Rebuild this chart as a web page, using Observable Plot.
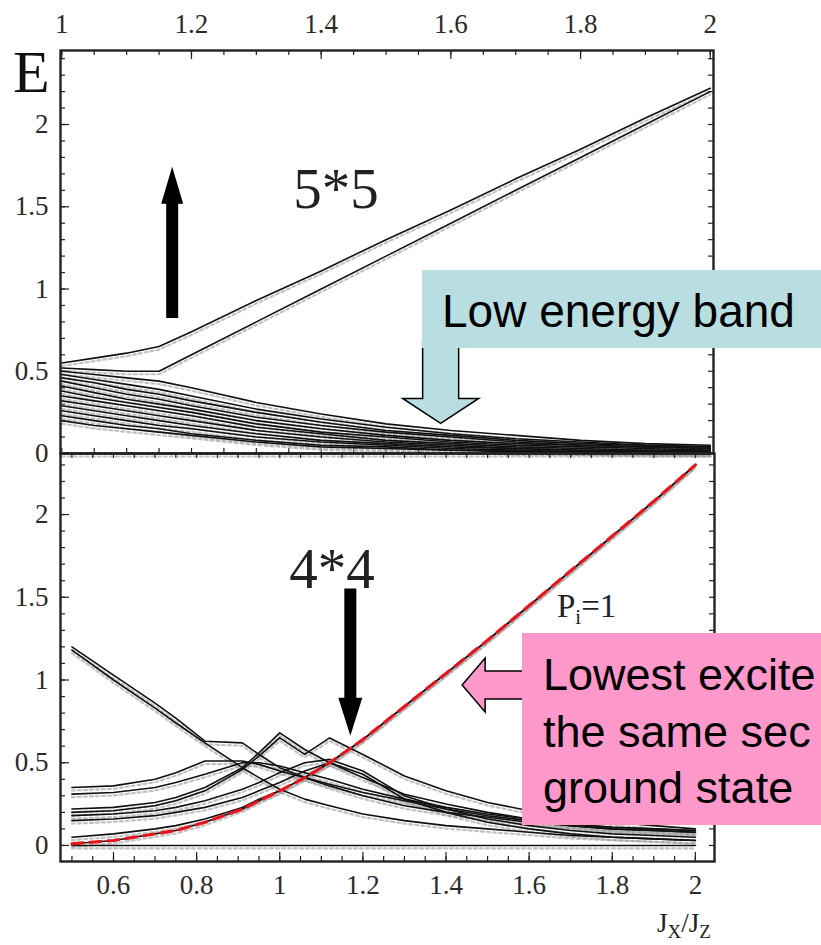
<!DOCTYPE html>
<html><head><meta charset="utf-8">
<script src="https://cdn.jsdelivr.net/npm/d3@7"></script>
<script src="https://cdn.jsdelivr.net/npm/@observablehq/plot@0.6"></script>
<style>
html,body{margin:0;padding:0;background:#fff;overflow:hidden;}
#page{position:relative;width:821px;height:945px;overflow:hidden;background:#fff;}
#page svg.panel{display:block;}
#page svg.panel text{font-family:"Liberation Serif","Times New Roman",serif !important;}
#overlay{position:absolute;left:0;top:0;pointer-events:none;}
</style></head><body><div id="page"></div>
<script>
// ---------- DATA ----------
// Top panel (5*5 lattice), x = Jx/Jz
const topX = [1, 1.05, 1.1, 1.15, 1.2, 1.3, 1.4, 1.5, 1.6, 1.7, 1.8, 1.9, 2.0];
const top_upperA = [0.55,0.58,0.61,0.65,0.74,0.93,1.11,1.30,1.48,1.67,1.85,2.04,2.22];
const top_upperB = [0.52,0.51,0.50,0.50,0.60,0.80,1.00,1.20,1.40,1.60,1.80,2.00,2.20];
const top_low1  = [0.50,0.48,0.46,0.44,0.40,0.31,0.24,0.18,0.14,0.11,0.08,0.06,0.05];
const top_low2  = [0.48,0.45,0.42,0.39,0.35,0.27,0.21,0.16,0.12,0.09,0.07,0.05,0.04];
const top_low3  = [0.46,0.43,0.39,0.36,0.32,0.25,0.19,0.14,0.11,0.08,0.06,0.05,0.04];
const top_low4  = [0.44,0.40,0.36,0.33,0.29,0.22,0.17,0.13,0.10,0.07,0.05,0.04,0.03];
const top_low5  = [0.41,0.37,0.33,0.30,0.27,0.20,0.15,0.11,0.08,0.06,0.05,0.04,0.03];
const top_low6  = [0.38,0.34,0.31,0.28,0.25,0.18,0.13,0.10,0.07,0.05,0.04,0.03,0.02];
const top_low7  = [0.35,0.32,0.29,0.26,0.23,0.16,0.12,0.08,0.06,0.04,0.03,0.02,0.02];
const top_low8  = [0.32,0.29,0.26,0.23,0.20,0.14,0.10,0.07,0.05,0.03,0.02,0.02,0.01];
const top_low9  = [0.29,0.26,0.23,0.20,0.17,0.12,0.08,0.06,0.04,0.03,0.02,0.01,0.01];
const top_low10 = [0.26,0.23,0.20,0.17,0.15,0.10,0.07,0.05,0.03,0.02,0.01,0.01,0.01];
const top_low11 = [0.23,0.20,0.17,0.15,0.12,0.08,0.05,0.04,0.02,0.02,0.01,0.01,0.00];
const top_low12 = [0.20,0.17,0.15,0.13,0.11,0.07,0.04,0.03,0.02,0.01,0.01,0.00,0.00];
const top_ground = [0,0,0,0,0,0,0,0,0,0,0,0,0];

// Bottom panel (4*4 lattice)
const botX = [0.5, 0.6, 0.7, 0.75, 0.82, 0.91, 0.95, 1.0, 1.06, 1.12, 1.2, 1.3, 1.4, 1.5, 1.6, 1.7, 1.8, 1.9, 2.0];
const bot_pi1   = [0.01,0.03,0.07,0.09,0.14,0.22,0.27,0.33,0.41,0.50,0.64,0.84,1.04,1.24,1.45,1.66,1.87,2.08,2.30];
const bot_lowB  = [0.05,0.07,0.10,0.12,0.16,0.23,0.28,0.33,0.41,0.50,0.64,0.84,1.04,1.24,1.45,1.66,1.87,2.08,2.30];
const bot_D1    = [1.20,1.03,0.86,0.77,0.63,0.62,0.55,0.47,0.41,0.36,0.30,0.24,0.20,0.17,0.14,0.12,0.10,0.09,0.08];
const bot_D2    = [1.18,1.00,0.83,0.74,0.62,0.47,0.41,0.34,0.28,0.24,0.19,0.15,0.12,0.10,0.08,0.06,0.05,0.04,0.03];
const bot_A1    = [0.35,0.36,0.40,0.44,0.51,0.51,0.49,0.45,0.41,0.37,0.32,0.27,0.22,0.18,0.15,0.12,0.10,0.09,0.08];
const bot_A2    = [0.31,0.32,0.35,0.38,0.43,0.50,0.50,0.48,0.44,0.40,0.34,0.28,0.23,0.19,0.16,0.13,0.11,0.10,0.09];
const bot_B1    = [0.22,0.23,0.26,0.29,0.35,0.47,0.56,0.68,0.58,0.50,0.41,0.31,0.25,0.20,0.16,0.13,0.11,0.10,0.09];
const bot_B2    = [0.20,0.21,0.24,0.27,0.33,0.46,0.54,0.65,0.55,0.65,0.55,0.42,0.33,0.26,0.21,0.17,0.14,0.12,0.10];
const bot_B3    = [0.18,0.19,0.21,0.23,0.27,0.34,0.38,0.44,0.50,0.52,0.45,0.30,0.22,0.16,0.12,0.09,0.07,0.06,0.05];
const bot_B4    = [0.15,0.16,0.18,0.20,0.23,0.29,0.33,0.38,0.45,0.50,0.43,0.28,0.20,0.14,0.10,0.07,0.05,0.04,0.03];
const bot_ground = [0,0,0,0,0,0,0,0,0,0,0,0,0,0,0,0,0,0,0];

// Tick labels
const topXTicks = [1, 1.2, 1.4, 1.6, 1.8, 2];
const botXTicks = [0.6, 0.8, 1, 1.2, 1.4, 1.6, 1.8, 2];
const yTicks = [0, 0.5, 1, 1.5, 2];

// ---------- BUILD ----------
function tidy(xs, series) {
  const out = [];
  for (const [name, ys] of Object.entries(series)) ys.forEach((y, i) => out.push({s: name, x: xs[i], y}));
  return out;
}
const topData = tidy(topX, {top_upperA, top_upperB, top_low1, top_low2, top_low3, top_low4, top_low5, top_low6,
  top_low7, top_low8, top_low9, top_low10, top_low11, top_low12, top_ground});
const botBlack = tidy(botX, {bot_lowB, bot_D1, bot_D2, bot_A1, bot_A2, bot_B1, bot_B2, bot_B3, bot_B4, bot_ground, bot_pi1});
const botRed = tidy(botX, {bot_pi1});

const FONT = "Liberation Serif, Times New Roman, serif";
const INK = "#222";
const fmt = d => String(d);
const axisText = {fontFamily: FONT, fontSize: 27, fill: "#2a2a2a", stroke: "#555", strokeWidth: 0.4, tickFormat: fmt, label: null, tickSize: 0};

function edgeTicks(vals, axis, side, len, fsize) {
  if (axis === "x") {
    return Plot.tickX(vals, {x: d => d, stroke: INK, strokeWidth: 1.2,
      insetTop: side === "bottom" ? fsize - len : 0, insetBottom: side === "top" ? fsize - len : 0});
  }
  return Plot.tickY(vals, {y: d => d, stroke: INK, strokeWidth: 1.2,
    insetRight: side === "left" ? fsize - len : 0, insetLeft: side === "right" ? fsize - len : 0});
}

const topMinorX = d3.range(20, 41).map(i => i / 20);
const topMinorY = d3.range(0, 25).map(i => i / 10);
const botMinorX = d3.range(10, 41).map(i => i / 20);
const botMinorY = d3.range(0, 24).map(i => i / 10);

const TFH = 403, TFW = 653, BFH = 408, BFW = 654;

const topPlot = Plot.plot({
  width: 821, height: 453, marginTop: 50, marginBottom: 0, marginLeft: 60, marginRight: 108,
  x: {domain: [0.998, 2.005]},
  y: {domain: [0, 2.45]},
  style: {fontFamily: FONT, background: "transparent", overflow: "visible"},
  marks: [
    edgeTicks(topMinorX, "x", "top", 5, TFH),
    edgeTicks(topMinorX, "x", "bottom", 5, TFH),
    edgeTicks(topMinorY, "y", "left", 5, TFW),
    edgeTicks(topMinorY, "y", "right", 5, TFW),
    edgeTicks(topXTicks, "x", "top", 9, TFH),
    edgeTicks(yTicks, "y", "left", 9, TFW),
    Plot.axisX({anchor: "top", ticks: topXTicks, tickPadding: 18, ...axisText}),
    Plot.axisY({anchor: "left", ticks: yTicks, tickPadding: 12, ...axisText}),
    Plot.line(topData, {x: "x", y: "y", z: "s", stroke: "#9a9a9a", strokeWidth: 2.2, strokeDasharray: "3,3", dy: 3, strokeOpacity: 0.6}),
    Plot.line(topData, {x: "x", y: "y", z: "s", stroke: "#111", strokeWidth: 1.6}),
    Plot.frame({stroke: INK, strokeWidth: 2.4})
  ]
});
topPlot.classList.add("panel");

const botPlot = Plot.plot({
  width: 821, height: 492, marginTop: 0, marginBottom: 84, marginLeft: 60, marginRight: 107,
  x: {domain: [0.4725, 2.046]},
  y: {domain: [-0.097, 2.369]},
  style: {fontFamily: FONT, background: "transparent", overflow: "visible"},
  marks: [
    edgeTicks(botMinorX, "x", "top", 5, BFH),
    edgeTicks(botMinorX, "x", "bottom", 5, BFH),
    edgeTicks(botMinorY, "y", "left", 5, BFW),
    edgeTicks(botMinorY, "y", "right", 5, BFW),
    edgeTicks(botXTicks, "x", "bottom", 9, BFH),
    edgeTicks(yTicks, "y", "left", 9, BFW),
    Plot.axisX({anchor: "bottom", ticks: botXTicks, tickPadding: 13, ...axisText}),
    Plot.axisY({anchor: "left", ticks: yTicks, tickPadding: 12, ...axisText}),
    Plot.line(botBlack, {x: "x", y: "y", z: "s", stroke: "#9a9a9a", strokeWidth: 2.2, strokeDasharray: "3,3", dy: 3, strokeOpacity: 0.6}),
    Plot.line(botBlack, {x: "x", y: "y", z: "s", stroke: "#111", strokeWidth: 1.6}),
    Plot.line(botRed, {x: "x", y: "y", stroke: "#e3161e", strokeWidth: 3.2, strokeDasharray: "11,7"}),
    Plot.frame({stroke: INK, strokeWidth: 2.4})
  ]
});
botPlot.classList.add("panel");

const page = document.getElementById("page");
page.append(topPlot, botPlot);
for (const svg of [topPlot, botPlot]) {
  svg.querySelectorAll("text").forEach(n => { n.style.fontFamily = FONT; });
}

// ---------- ANNOTATIONS ----------
const tx = v => topPlot.scale("x").apply(v);
const ty = v => topPlot.scale("y").apply(v);
const bx = v => botPlot.scale("x").apply(v);
const by = v => botPlot.scale("y").apply(v) + 453;

function vArrow(cx, yTail, yTip, sh, hh, hl) {
  const d = Math.sign(yTip - yTail), hb = yTip - d * hl;
  return [[cx - sh, yTail], [cx - sh, hb], [cx - hh, hb], [cx, yTip], [cx + hh, hb], [cx + sh, hb], [cx + sh, yTail]].map(p => p.join(",")).join(" ");
}
function hArrow(cy, xTail, xTip, sh, hh, hl) {
  const d = Math.sign(xTip - xTail), hb = xTip - d * hl;
  return [[xTail, cy - sh], [hb, cy - sh], [hb, cy - hh], [xTip, cy], [hb, cy + hh], [hb, cy + sh], [xTail, cy + sh]].map(p => p.join(",")).join(" ");
}

const NS = "http://www.w3.org/2000/svg";
const ov = document.createElementNS(NS, "svg");
ov.setAttribute("id", "overlay");
ov.setAttribute("width", 821); ov.setAttribute("height", 945);
function el(tag, attrs, text) {
  const e = document.createElementNS(NS, tag);
  for (const k in attrs) e.setAttribute(k, attrs[k]);
  if (text != null) e.textContent = text;
  ov.appendChild(e);
  return e;
}

// Black arrows
el("polygon", {points: vArrow(tx(1.171), ty(0.82), ty(1.74), 6, 11, 37), fill: "#000"});
el("polygon", {points: vArrow(bx(1.171), by(1.55), by(0.66), 6, 12, 38), fill: "#000"});

// Serif labels
el("text", {x: 13, y: 92, "font-family": FONT, "font-size": 60, fill: "#111"}, "E");
el("text", {x: 336, y: 208, "text-anchor": "middle", "font-family": FONT, "font-size": 57, fill: "#222"}, "5*5");
el("text", {x: 332, y: 588, "text-anchor": "middle", "font-family": FONT, "font-size": 57, fill: "#222"}, "4*4");
const pt = el("text", {x: 557, y: 617, "font-family": FONT, "font-size": 33, fill: "#222"});
pt.innerHTML = '<tspan>P</tspan><tspan font-size="21" dy="7">i</tspan><tspan dy="-7">=1</tspan>';
const jt = el("text", {x: 657, y: 932, "font-family": FONT, "font-size": 27, fill: "#222"});
jt.innerHTML = '<tspan>J</tspan><tspan font-size="19" dy="6">X</tspan><tspan dy="-6">/J</tspan><tspan font-size="19" dy="6">Z</tspan>';

// Low energy band callout
const SANS = "Liberation Sans, Arial, sans-serif";
el("polygon", {points: vArrow(tx(1.585), 340, ty(0.18), 18, 38, 25), fill: "#b8dee1", stroke: "#000", "stroke-width": 1.5});
el("rect", {x: 422, y: 270, width: 399, height: 78, fill: "#b8dee1"});
el("text", {x: 442, y: 327, "font-family": SANS, "font-size": 46, fill: "#000"}, "Low energy band");

// Lowest excitation callout (text as visible in the reference, which is cropped at the right edge)
el("polygon", {points: hArrow(by(0.967), 530, bx(1.44), 14, 27, 23), fill: "#fd98cb", stroke: "#000", "stroke-width": 1.5});
el("rect", {x: 522, y: 633, width: 299, height: 192, fill: "#fd98cb"});
el("text", {x: 543, y: 690, "font-family": SANS, "font-size": 45, fill: "#000"}, "Lowest excite");
el("text", {x: 543, y: 747, "font-family": SANS, "font-size": 45, fill: "#000"}, "the same sec");
el("text", {x: 543, y: 803, "font-family": SANS, "font-size": 45, fill: "#000"}, "ground state");

page.appendChild(ov);
</script></body></html>
